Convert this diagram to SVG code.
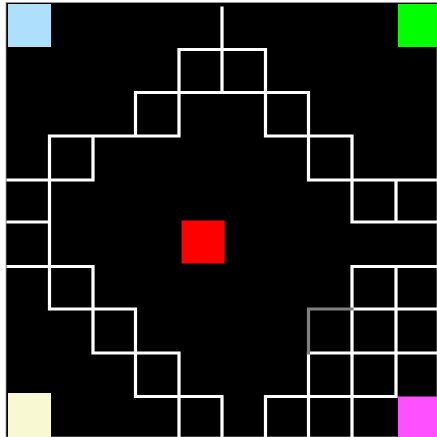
<svg xmlns="http://www.w3.org/2000/svg" width="437" height="437" viewBox="0 0 437 437">
  <style>
    .wire { stroke: #ffffff; stroke-width: 3.2; fill: none; stroke-linecap: square; }
    .dim { stroke: #808080; stroke-width: 3.2; fill: none; stroke-linecap: square; }
    .cell { stroke: none; }
  </style>
  <rect x="0" y="0" width="437" height="437" fill="#ffffff"/>
  <rect x="6" y="2.5" width="431" height="434.5" fill="#000000" stroke="#9a9a9a" stroke-width="0.8"/>

  <g id="node-blue"><rect class="cell" x="8" y="4" width="43" height="43" fill="#aee0fe"/></g>
  <g id="node-green"><rect class="cell" x="398" y="4" width="39" height="43" fill="#00ff00"/></g>
  <g id="node-cream"><rect class="cell" x="8" y="393" width="43" height="44" fill="#f8f8d2"/></g>
  <g id="node-magenta"><rect class="cell" x="398" y="396.5" width="39" height="40.5" fill="#ff50ff"/></g>
  <g id="node-red"><rect class="cell" x="181.5" y="220.5" width="43" height="43" fill="#ff0000"/></g>

  <g id="connectors">
    <path class="wire" d="
      M222 8 V92.5
      M179 49.5 H265.5
      M179 49.5 V136
      M265.5 49.5 V136
      M135.5 92.5 H308.5
      M135.5 92.5 V136
      M308.5 92.5 V180
      M49.5 136 H179
      M265.5 136 H352
      M49.5 136 V309
      M93 136 V180
      M8 180 H93
      M8 222 H49.5
      M8 266.5 H93
      M93 266.5 V353
      M49.5 309 H135.5
      M135.5 309 V396.5
      M93 353 H179
      M179 353 V440
      M135.5 396.5 H222
      M222 396.5 V440
      M308.5 180 H440
      M352 136 V222
      M396 180 V222
      M352 222 H440
      M352 266.5 H440
      M352 266.5 V440
      M396 266.5 V396.5
      M352 309 H440
      M308.5 353 V440
      M308.5 353 H440
      M265.5 396.5 H396
      M265.5 396.5 V440"/>
    <path class="dim" d="M308.5 353 V309 H352"/>
  </g>
</svg>
